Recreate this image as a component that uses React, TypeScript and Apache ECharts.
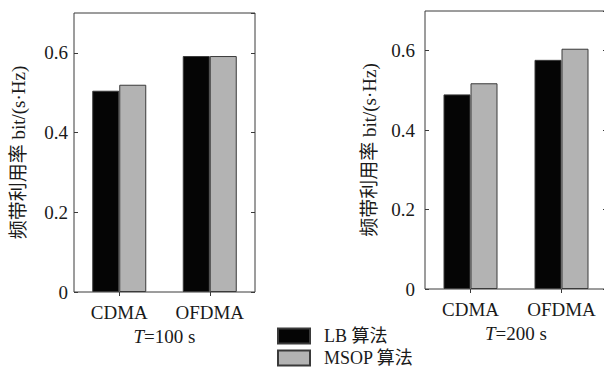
import { useEffect, useRef } from "react";
import * as echarts from "echarts";

const categories = ["CDMA", "OFDMA"];
const seriesNames = ["LB 算法", "MSOP 算法"];
const lbT100 = [0.505, 0.592];
const msopT100 = [0.52, 0.592];
const lbT200 = [0.49, 0.577];
const msopT200 = [0.518, 0.605];
const panelTitles = ["{i|T}=100 s", "{i|T}=200 s"];
const yName = "频带利用率 bit/(s·Hz)";

const SERIF = "'Liberation Serif', 'Times New Roman', 'Noto Sans CJK SC', serif";
const BORDER = "#3a3a3a";
const TEXT = "#1a1a1a";
const BLACK = "#050505";
const GRAY = "#b3b3b3";

export default function App() {
  const ref = useRef<HTMLDivElement>(null);
  useEffect(() => {
    if (!ref.current) return;
    const chart = echarts.init(ref.current, undefined, { renderer: "svg" });

    const grids = [
      { left: 74, top: 13, width: 181, height: 279 },
      { left: 425, top: 11, width: 182, height: 278 },
    ];

    const xAxes: any[] = [];
    const yAxes: any[] = [];
    grids.forEach((_, gi) => {
      xAxes.push({
        gridIndex: gi,
        type: "category",
        data: categories,
        position: "bottom",
        axisLine: { show: false },
        axisTick: { show: false },
        axisLabel: { margin: 11, fontSize: 19, fontFamily: SERIF, color: TEXT },
        name: panelTitles[gi],
        nameLocation: "middle",
        nameGap: 31,
        nameTextStyle: {
          fontSize: 19,
          fontFamily: SERIF,
          color: TEXT,
          rich: { i: { fontStyle: "italic", fontSize: 19, fontFamily: SERIF, color: TEXT } },
        },
      });
      xAxes.push({
        gridIndex: gi,
        type: "category",
        data: categories,
        position: "top",
        axisLine: { show: false },
        axisTick: { show: true, inside: true, alignWithLabel: true, length: 4, lineStyle: { color: BORDER } },
        axisLabel: { show: false },
      });
      yAxes.push({
        gridIndex: gi,
        type: "value",
        min: 0,
        max: 0.7,
        interval: 0.2,
        position: "left",
        axisLine: { show: false },
        splitLine: { show: false },
        axisTick: { show: true, inside: true, length: 4, lineStyle: { color: BORDER } },
        axisLabel: {
          margin: gi === 0 ? 6 : 10,
          fontSize: 19,
          fontFamily: SERIF,
          color: TEXT,
          showMaxLabel: false,
        },
        name: yName,
        nameLocation: "middle",
        nameRotate: 90,
        nameGap: 46,
        nameTextStyle: { fontSize: 19, fontFamily: SERIF, color: TEXT },
      });
      yAxes.push({
        gridIndex: gi,
        type: "value",
        min: 0,
        max: 0.7,
        interval: 0.2,
        position: "right",
        axisLine: { show: false },
        splitLine: { show: false },
        axisTick: { show: true, inside: true, length: 4, lineStyle: { color: BORDER } },
        axisLabel: { show: false },
      });
    });

    const barStyle = (color: string) => ({ color, borderColor: BORDER, borderWidth: 1 });

    const data = [
      [lbT100, msopT100],
      [lbT200, msopT200],
    ];
    const series: any[] = [];
    data.forEach((pair, gi) => {
      pair.forEach((vals, si) => {
        series.push({
          type: "bar",
          name: seriesNames[si],
          xAxisIndex: gi * 2,
          yAxisIndex: gi * 2,
          data: vals,
          barWidth: 27,
          barGap: "0%",
          itemStyle: barStyle(si === 0 ? BLACK : GRAY),
        });
      });
    });

    const legends = seriesNames.map((name, i) => ({
      data: [name],
      orient: "vertical",
      left: 277,
      top: 327 + i * 22,
      padding: 0,
      itemWidth: 32,
      itemHeight: 15,
      icon: "rect",
      selectedMode: false,
      textStyle: { fontSize: 18, lineHeight: 16, fontFamily: SERIF, color: TEXT, padding: [0, 0, 0, 9] },
    }));

    chart.setOption({
      animation: false,
      backgroundColor: "#ffffff",
      grid: grids.map((g) => ({
        ...g,
        show: true,
        borderColor: BORDER,
        borderWidth: 1,
        backgroundColor: "transparent",
        outerBoundsMode: "none",
        containLabel: false,
      })),
      xAxis: xAxes,
      yAxis: yAxes,
      legend: legends,
      series,
    });
    return () => chart.dispose();
  }, []);
  return <div ref={ref} style={{ width: 604, height: 368, position: "absolute", left: 0, top: 0 }} />;
}
